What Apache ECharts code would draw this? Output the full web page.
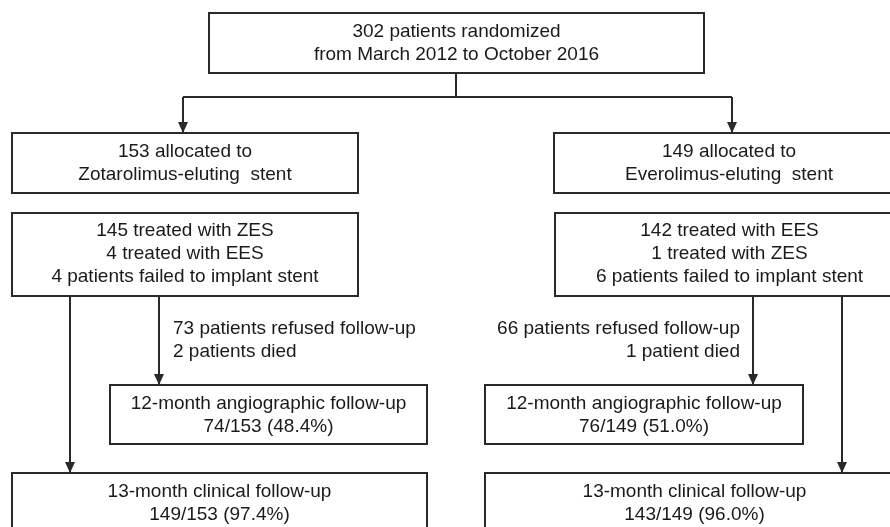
<!DOCTYPE html>
<html><head><meta charset="utf-8">
<script src="https://cdn.jsdelivr.net/npm/echarts@6/dist/echarts.min.js"></script>
<style>html,body{margin:0;padding:0;background:#fff}#c{width:890px;height:527px}</style>
</head><body><div id="c"></div>
<script>
// Flowchart content
const boxTexts = [
  "302 patients randomized\nfrom March 2012 to October 2016",
  "153 allocated to\nZotarolimus-eluting  stent",
  "149 allocated to\nEverolimus-eluting  stent",
  "145 treated with ZES\n4 treated with EES\n4 patients failed to implant stent",
  "142 treated with EES\n1 treated with ZES\n6 patients failed to implant stent",
  "12-month angiographic follow-up\n74/153 (48.4%)",
  "12-month angiographic follow-up\n76/149 (51.0%)",
  "13-month clinical follow-up\n149/153 (97.4%)",
  "13-month clinical follow-up\n143/149 (96.0%)"
];
const noteTexts = [
  "73 patients refused follow-up\n2 patients died",
  "66 patients refused follow-up\n1 patient died"
];
// layout (diagram units)
const boxLayout = [
  [209, 13, 704, 73],
  [12, 133, 358, 193],
  [554, 133, 904, 193],
  [12, 213, 358, 296],
  [555, 213, 904, 296],
  [110, 385, 427, 444],
  [485, 385, 803, 444],
  [12, 473, 427, 560],
  [485, 473, 904, 560]
];
const firstLineY = [32, 152, 152, 231, 231, 404, 404, 492, 492];
const connectors = [
  {pts: [[456, 73], [456, 97]], arrow: false},
  {pts: [[183, 97], [732, 97]], arrow: false},
  {pts: [[183, 97], [183, 133]], arrow: true},
  {pts: [[732, 97], [732, 133]], arrow: true},
  {pts: [[70, 296], [70, 473]], arrow: true},
  {pts: [[159, 296], [159, 385]], arrow: true},
  {pts: [[753, 296], [753, 385]], arrow: true},
  {pts: [[842, 296], [842, 473]], arrow: true}
];
const noteLayout = [
  {x: 173, y: 329, align: 'left'},
  {x: 740, y: 329, align: 'right'}
];

const FONT = 'Liberation Sans, Arial, sans-serif';
const INK = '#2a2a2a';
const LINE_H = 23;

function lineEls(api, text, x, y, align) {
  return text.split('\n').map((s, k) => {
    const p = api.coord([x, y + k * LINE_H]);
    return {type: 'text', x: p[0], y: p[1],
            style: {text: s, fill: '#1a1a1a', font: '19px ' + FONT, align: align, verticalAlign: 'middle'}};
  });
}

const chart = echarts.init(document.getElementById('c'), null, {renderer: 'canvas'});
chart.setOption({
  animation: false,
  backgroundColor: '#fff',
  grid: {left: 0, right: 0, top: 0, bottom: 0},
  xAxis: {type: 'value', min: 0, max: 890, show: false},
  yAxis: {type: 'value', min: 0, max: 527, inverse: true, show: false},
  series: [
    {
      type: 'custom',
      clip: false,
      data: boxTexts.map((t, i) => [i]),
      renderItem: function (params, api) {
        const i = api.value(0);
        const b = boxLayout[i];
        const p0 = api.coord([b[0], b[1]]);
        const p1 = api.coord([b[2], b[3]]);
        return {
          type: 'group',
          children: [
            {type: 'rect', shape: {x: p0[0], y: p0[1], width: p1[0] - p0[0], height: p1[1] - p0[1]},
             style: {fill: '#fff', stroke: INK, lineWidth: 2}}
          ].concat(lineEls(api, boxTexts[i], (b[0] + b[2]) / 2, firstLineY[i], 'center'))
        };
      }
    },
    {
      type: 'custom',
      clip: false,
      data: connectors.map((c, i) => [i]),
      renderItem: function (params, api) {
        const c = connectors[api.value(0)];
        const pts = c.pts.map(p => api.coord(p));
        const children = [{type: 'polyline', shape: {points: pts}, style: {stroke: INK, lineWidth: 2, fill: null}}];
        if (c.arrow) {
          const e = pts[pts.length - 1];
          children.push({type: 'polygon', shape: {points: [[e[0] - 5, e[1] - 11], [e[0] + 5, e[1] - 11], [e[0], e[1]]]},
                         style: {fill: INK}});
        }
        return {type: 'group', children: children};
      }
    },
    {
      type: 'custom',
      clip: false,
      data: noteTexts.map((t, i) => [i]),
      renderItem: function (params, api) {
        const i = api.value(0);
        const n = noteLayout[i];
        return {type: 'group', children: lineEls(api, noteTexts[i], n.x, n.y, n.align)};
      }
    }
  ]
});
</script></body></html>
